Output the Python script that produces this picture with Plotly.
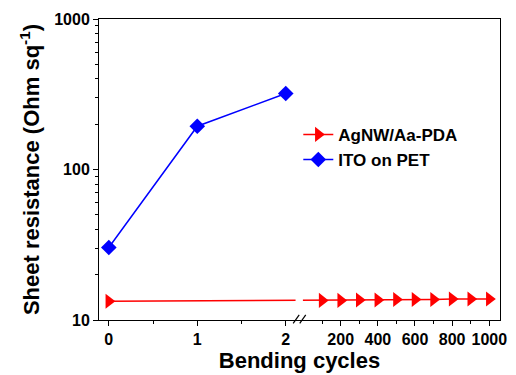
import plotly.graph_objects as go

# ---- data ----
agnw_cycles = [0, 100, 200, 300, 400, 500, 600, 700, 800, 900, 1000]
agnw_res = [13.3, 13.5, 13.5, 13.6, 13.6, 13.7, 13.7, 13.7, 13.8, 13.8, 13.8]
ito_cycles = [0, 1, 2]
ito_res = [30.3, 194, 320]

left_major = [0, 1, 2]
left_minor = [0.5, 1.5]
right_major = [200, 400, 600, 800, 1000]
right_minor = [100, 300, 500, 700, 900]
y_major = [10, 100, 1000]
y_minor = [v * m for m in (10, 100) for v in range(2, 10)]

# ---- broken-axis scale: 0..2 linear, then compressed segment for 100..1000 ----
SEG2_START = 2.411   # axis units where 100 cycles sits
SEG2_SCALE = 0.0021  # axis units per cycle in the second segment


def xpos(c):
    return c if c <= 2 else SEG2_START + (c - 100) * SEG2_SCALE


FONT = "Liberation Sans, Arial, sans-serif"

fig = go.Figure()
fig.add_trace(go.Scatter(
    x=[xpos(c) for c in agnw_cycles], y=agnw_res, mode="lines+markers",
    name="AgNW/Aa-PDA", line=dict(color="#ff0000", width=1.5),
    marker=dict(symbol="triangle-right", size=13, color="#ff0000"),
))
fig.add_trace(go.Scatter(
    x=[xpos(c) for c in ito_cycles], y=ito_res, mode="lines+markers",
    name="ITO on PET", line=dict(color="#0000ff", width=1.5),
    marker=dict(symbol="diamond", size=12, color="#0000ff"),
))

# gap in the line at the axis break
fig.add_shape(type="rect", xref="x", yref="paper", x0=2.111, x1=2.194,
              y0=0.01, y1=0.99, fillcolor="white", line=dict(width=0), layer="above")
# break marks "//"
for x0 in (2.084, 2.158):
    fig.add_shape(type="line", xref="x", yref="paper", x0=x0, x1=x0 + 0.068,
                  y0=-0.011, y1=0.017, line=dict(color="black", width=1.2))

xt = [xpos(c) for c in left_major + right_major]
xl = [str(c) for c in left_major + right_major]
xm = [xpos(c) for c in left_minor + right_minor]

fig.update_layout(
    width=516, height=375,
    margin=dict(l=99, r=9, t=19, b=54),
    paper_bgcolor="white", plot_bgcolor="white",
    showlegend=True,
    legend=dict(x=0.497, y=0.675, xanchor="left", yanchor="top",
                font=dict(family=FONT, size=17, color="black", weight="bold"),
                bgcolor="rgba(0,0,0,0)", tracegroupgap=0, itemwidth=30),
    xaxis=dict(
        range=[-0.111, 4.422], tickmode="array", tickvals=xt, ticktext=xl,
        ticks="outside", ticklen=5, tickwidth=1, tickcolor="black",
        showline=True, linecolor="black", linewidth=1, mirror=True,
        showgrid=False, zeroline=False,
        tickfont=dict(family=FONT, size=16, color="black", weight="bold"),
        minor=dict(tickvals=xm, ticks="outside", ticklen=3, tickcolor="black", showgrid=False),
        title=dict(text="Bending cycles", standoff=2,
                   font=dict(family=FONT, size=22, color="black", weight="bold")),
    ),
    yaxis=dict(
        type="log", range=[1, 3], tickmode="array", tickvals=y_major,
        ticktext=[str(v) for v in y_major],
        ticks="outside", ticklen=5, tickwidth=1, tickcolor="black",
        showline=True, linecolor="black", linewidth=1, mirror=True,
        showgrid=False, zeroline=False,
        tickfont=dict(family=FONT, size=16, color="black", weight="bold"),
        minor=dict(tickvals=y_minor, ticks="outside", ticklen=3, tickcolor="black", showgrid=False),
        title=dict(text="Sheet resistance (Ohm sq<sup>-1</sup>)", standoff=8,
                   font=dict(family=FONT, size=22, color="black", weight="bold")),
    ),
)

fig.write_html("out.html")
